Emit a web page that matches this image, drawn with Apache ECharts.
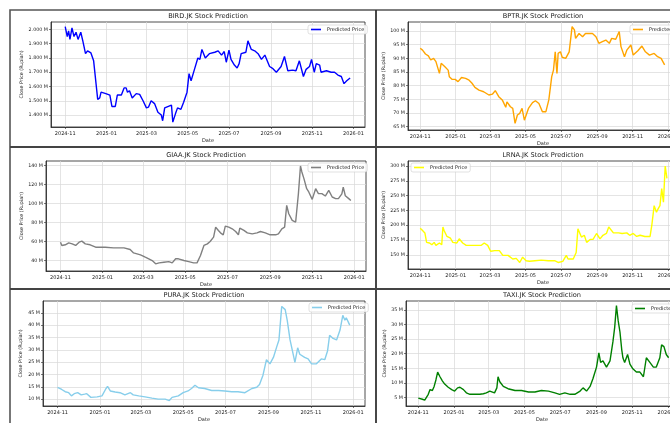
<!DOCTYPE html>
<html>
<head>
<meta charset="utf-8">
<script src="https://cdn.jsdelivr.net/npm/echarts@6/dist/echarts.min.js"></script>
<style>
html, body { margin: 0; padding: 0; background: #fff; overflow: hidden; }
#main { width: 700px; height: 423px; }
</style>
</head>
<body>
<div id="main"></div>
<script>
// days after 2024-11-01, values in the units shown on each y axis
var birdDays = [0,3,5,7,10,13,16,19,23,26,30,33,38,42,46,48,51,53,60,66,69,74,77,83,87,90,92,95,99,105,110,115,120,123,127,132,137,142,144,147,157,159,163,166,171,175,180,183,186,191,196,199,202,207,213,221,226,231,235,238,242,245,250,254,257,260,267,270,275,280,285,290,295,302,307,312,319,324,329,336,341,346,352,356,361,364,368,371,376,378,386,393,398,403,408,412,416,421];
var birdPrice = [2020,1950,1990,1930,2010,1950,1980,1930,1980,1920,1830,1850,1835,1780,1600,1510,1520,1560,1550,1540,1460,1460,1540,1540,1590,1590,1560,1570,1520,1550,1545,1500,1450,1455,1500,1480,1420,1400,1360,1450,1470,1350,1410,1450,1440,1490,1560,1690,1640,1720,1800,1790,1860,1800,1830,1840,1850,1820,1845,1770,1855,1790,1750,1730,1760,1830,1840,1920,1860,1850,1830,1790,1820,1740,1725,1700,1740,1810,1710,1715,1710,1780,1670,1720,1740,1790,1700,1760,1750,1700,1710,1700,1700,1680,1670,1620,1640,1660];

var bptrDays = [0,4,9,14,18,23,27,33,36,42,48,50,55,60,65,71,78,84,89,94,101,109,118,124,129,135,141,147,149,155,159,163,167,171,175,179,182,186,193,198,204,210,216,221,226,229,232,235,237,241,244,250,256,261,265,267,273,279,284,290,296,302,307,313,319,325,329,336,342,345,351,355,362,366,374,381,387,394,402,408,414,420];
var bptrPrice = [93.7,93,91.6,90.9,89.4,90,88.8,84.5,88.2,87,85.7,83.3,82.3,82.3,81.5,83,82.7,82,80.9,79.4,78.4,77.8,76.6,76.9,78.2,76,74.8,72.1,74.1,72.3,71.7,66.2,69.3,69.9,71.7,67.4,67.4,71.7,73.8,74.5,73.5,70.5,70.5,74.8,83.3,85.7,92.4,84.5,91.8,92.4,90.4,90,92.4,101.6,100.4,97.3,99.1,97.9,99.1,99.1,99.1,97.9,95.5,96.1,96.7,95.5,97.3,97,99.8,94.3,90.6,93,94.9,91.2,92.8,94.5,92.4,91.2,91.8,90.6,90,87.6];

var giaaDays = [0,2,7,12,17,22,27,31,36,43,51,58,65,77,92,101,106,116,123,128,133,138,143,150,157,162,167,171,179,186,193,198,203,208,213,217,222,225,229,232,236,239,244,249,254,258,260,266,271,278,285,290,297,304,312,316,321,325,328,331,336,341,345,348,350,353,357,360,365,370,374,379,384,389,394,399,403,408,410,413,418,421];
var giaaPrice = [59.3,55.8,56.5,58.6,57.5,55.8,59.3,60.4,57.5,56.5,54,54,54,53.3,53.3,51.6,48,46,43.5,41.8,40,36.5,37.5,38.2,38.9,37.5,41.8,41.8,40,38.9,37.5,37.5,45.3,55.8,57.5,60,64.6,75,71.6,69.1,67,76.1,75,73.3,70.5,67,74,71.6,69.1,68,69.1,70.5,69.1,67,67,68,73.3,75,97.9,89.1,82.1,80.4,110.2,139.3,133,126,115.4,112,104.2,115.4,110.2,110.2,107.7,113.7,106.7,105,105,110,117,108,105,103];

var lrnaDays = [0,4,8,11,16,20,24,27,33,37,39,41,46,52,56,63,67,73,79,87,96,105,110,116,121,128,136,142,151,159,165,171,176,182,188,197,208,220,231,237,245,251,254,263,268,271,277,282,286,292,297,303,309,314,320,324,332,341,347,355,360,366,372,378,386,395,398,402,406,409,412,415,418,421,424];
var lrnaPrice = [195,191,187,171,170,167,171,166,170,167,197,191,181,178,171,170,177,170,166,166,166,166,170,166,156,157,157,149,149,143,144,137,146,140,139,140,141,140,140,137,139,149,143,143,154,194,180,183,171,176,176,186,177,183,186,197,187,187,186,187,183,186,181,183,181,181,200,233,222,228,233,262,239,300,279];

var puraDays = [0,6,11,16,20,24,29,34,39,42,48,57,64,69,72,76,83,90,97,105,109,117,126,136,145,155,161,165,174,181,188,193,198,203,212,222,232,241,251,260,270,280,287,291,296,301,306,311,316,319,323,328,331,335,340,342,346,349,356,361,366,373,380,385,389,392,397,402,407,411,414,416,421];
var puraPrice = [14.8,13.9,13,12.6,11.3,12.2,12.6,11.7,12,12.2,10.7,10.9,11.3,13.9,15.2,13.3,12.9,12.6,11.7,12.6,11.7,11.3,10.9,10.4,10,10,9.4,10.7,11.3,12.6,13.3,14.3,15.6,14.6,14.3,13.5,13.5,13.3,13,13,12.6,14.3,14.8,15.9,19.7,26,24.3,26.9,31.4,34,47.6,46.3,41.8,34,27.5,24.9,30.8,28.2,26.9,26.3,24.3,24.3,26.3,26,29.5,35.9,34.6,34,38,44,42,43,40];

var taxiDays = [0,7,11,17,20,24,27,30,33,37,41,45,51,57,62,67,71,77,82,88,97,105,111,116,122,130,134,136,139,145,153,165,176,188,199,210,222,233,241,250,259,267,276,281,287,293,298,304,308,311,315,321,327,332,335,338,341,344,347,349,352,357,361,366,372,378,384,389,395,401,406,412,415,419,423,427];
var taxiPrice = [4.8,4.4,4.1,6.1,7.7,7.4,8.8,11,13.7,12.1,10.7,9.6,8.5,7.7,7.2,8.3,8.5,7.7,6.6,6.1,6.1,6.1,6.3,6.6,7.2,6.6,8.3,12.1,10.4,8.8,8,7.4,7.4,6.9,6.9,7.4,7.2,6.6,6.1,6.6,6.1,6.1,7.2,8.3,7.2,8.8,11.5,15.4,20.3,17,17.5,15.4,17.5,24.1,29,36.4,31.2,27.4,21.4,18.6,17,19.7,16.4,14.8,13.7,13.7,12.1,18.6,17,15.4,15.4,18.6,23,22.4,19.7,18.6];

var monthTicks = ['2024-11-01','2025-01-01','2025-03-01','2025-05-01','2025-07-01','2025-09-01','2025-11-01','2026-01-01'];
var birdTicks = [1400,1500,1600,1700,1800,1900,2000];
var bptrTicks = [65,70,75,80,85,90,95,100];
var giaaTicks = [40,60,80,100,120,140];
var lrnaTicks = [150,175,200,225,250,275,300];
var puraTicks = [10,15,20,25,30,35,40,45];
var taxiTicks = [5,10,15,20,25,30,35];

var DAY = 86400000;
var START = Date.UTC(2024, 10, 1);
var FONT = 'DejaVu Sans';

function pairs(days, vals) {
    return days.map(function (d, i) { return [START + d * DAY, vals[i]]; });
}
function ts(s) { return Date.parse(s + 'T00:00:00Z'); }
function ym(v) {
    var d = new Date(v);
    var m = d.getUTCMonth() + 1;
    return d.getUTCFullYear() + '-' + (m < 10 ? '0' + m : m);
}

// the right-hand panels run past the edge of the picture, so the canvas is wider than the window
var panels = [
    { name: 'BIRD.JK', days: birdDays, vals: birdPrice, color: '#0000ff', ticks: birdTicks,
      g: [51, 22, 314, 105], y: [1316, 2052], gap: 27, leg: [308, 25], dots: true },
    { name: 'BPTR.JK', days: bptrDays, vals: bptrPrice, color: '#ffa500', ticks: bptrTicks,
      g: [408, 22, 270, 108], y: [63.8, 103.3], gap: 19, leg: [630, 25] },
    { name: 'GIAA.JK', days: giaaDays, vals: giaaPrice, color: '#808080', ticks: giaaTicks,
      g: [46, 161, 320, 110], y: [29, 144.5], gap: 22, leg: [308, 163] },
    { name: 'LRNA.JK', days: lrnaDays, vals: lrnaPrice, color: '#ffff00', ticks: lrnaTicks,
      g: [408, 161, 270, 108], y: [126, 308.5], gap: 19, leg: [411, 163] },
    { name: 'PURA.JK', days: puraDays, vals: puraPrice, color: '#87ceeb', ticks: puraTicks,
      g: [43, 301, 322, 110], y: [7.2, 49.8], gap: 20, leg: [309, 303] },
    { name: 'TAXI.JK', days: taxiDays, vals: taxiPrice, color: '#008000', ticks: taxiTicks,
      g: [406, 301, 272, 110], y: [2.1, 38], gap: 18, leg: [632, 304] }
];

var xTicks = monthTicks.map(ts);
var option = {
    animation: false,
    backgroundColor: '#fff',
    textStyle: { fontFamily: FONT },
    title: [], legend: [], grid: [], xAxis: [], yAxis: [], series: [],
    graphic: [
        { type: 'rect', shape: { x: 10, y: 10, width: 720, height: 450 },
          style: { fill: null, stroke: '#555', lineWidth: 1.6 }, z: 100 },
        { type: 'line', shape: { x1: 376, y1: 10, x2: 376, y2: 423 },
          style: { stroke: '#333', lineWidth: 1.8 }, z: 100 },
        { type: 'line', shape: { x1: 10, y1: 147, x2: 700, y2: 147 },
          style: { stroke: '#444', lineWidth: 1.8 }, z: 100 },
        { type: 'line', shape: { x1: 10, y1: 289, x2: 700, y2: 289 },
          style: { stroke: '#444', lineWidth: 1.8 }, z: 100 }
    ]
};

panels.forEach(function (p, i) {
    var sname = p.name + ' Predicted Price';
    var g = p.g;
    option.grid.push({ left: g[0], top: g[1], width: g[2], height: g[3],
        show: true, borderColor: '#222', borderWidth: 0.8, containLabel: false });
    option.title.push({ text: p.name + ' Stock Prediction', left: g[0] + g[2] / 2, top: g[1] - 9.5,
        textAlign: 'center', padding: 0,
        textStyle: { fontFamily: FONT, fontSize: 6.6, fontWeight: 'normal', color: '#222' } });
    option.legend.push({ data: [sname], left: p.leg[0], top: p.leg[1], selectedMode: false,
        icon: 'rect', itemWidth: 10, itemHeight: 1.6, itemGap: 3,
        padding: [2, 3], borderColor: '#ccc', borderWidth: 0.6, borderRadius: 2,
        backgroundColor: 'rgba(255,255,255,0.85)',
        formatter: function () { return 'Predicted Price'; },
        textStyle: { fontFamily: FONT, fontSize: 5, color: '#222', padding: [0, 0, 0, 1] } });
    option.xAxis.push({ type: 'value', gridIndex: i, scale: true,
        min: START - 21 * DAY, max: START + 443 * DAY,
        name: 'Date', nameLocation: 'middle', nameGap: 11,
        nameTextStyle: { fontFamily: FONT, fontSize: 5, color: '#222' },
        axisLine: { lineStyle: { color: '#222', width: 0.8 } },
        axisTick: { show: true, length: 2, customValues: xTicks, lineStyle: { color: '#222', width: 0.6 } },
        axisLabel: { customValues: xTicks, formatter: ym, fontSize: 5, color: '#222', margin: 4,
            fontFamily: FONT, hideOverlap: false },
        splitLine: { show: true, lineStyle: { color: '#d9d9d9', width: 0.7 } } });
    option.yAxis.push({ type: 'value', gridIndex: i, min: p.y[0], max: p.y[1],
        name: 'Close Price (Rupiah)', nameLocation: 'middle', nameGap: p.gap,
        nameTextStyle: { fontFamily: FONT, fontSize: 4.8, color: '#222' },
        axisLine: { show: true, lineStyle: { color: '#222', width: 0.8 } },
        axisTick: { show: true, length: 2, customValues: p.ticks, lineStyle: { color: '#222', width: 0.6 } },
        axisLabel: { customValues: p.ticks, fontSize: 4.8, color: '#222', margin: 3, fontFamily: FONT,
            formatter: p.dots ? function (v) { return (v / 1000).toFixed(3) + ' M'; }
                              : function (v) { return v + ' M'; } },
        splitLine: { show: true, lineStyle: { color: '#d9d9d9', width: 0.7 } } });
    option.series.push({ type: 'line', name: sname, xAxisIndex: i, yAxisIndex: i,
        data: pairs(p.days, p.vals), showSymbol: false, symbol: 'none',
        lineStyle: { color: p.color, width: 1.4 }, itemStyle: { color: p.color } });
});

var myChart = echarts.init(document.getElementById('main'));
myChart.setOption(option);
</script>
</body>
</html>
